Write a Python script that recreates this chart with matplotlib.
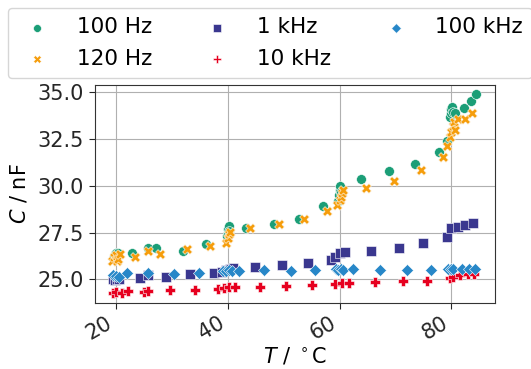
import matplotlib
matplotlib.use("Agg")
import matplotlib.pyplot as plt

# capacitance vs temperature, one series per measuring frequency
t_100hz = [19.7, 19.9, 20.1, 20.3, 20.5, 22.9, 25.8, 27.3, 32.0, 36.1,
           39.9, 40.0, 40.1, 40.2, 40.3, 43.3, 48.3, 52.7, 57.0,
           59.7, 59.9, 60.0, 60.1, 60.2, 63.9, 68.9, 73.4, 77.8, 79.2,
           79.8, 79.9, 80.0, 80.1, 80.3, 80.6, 82.2, 83.4, 84.3]
c_100hz = [26.2, 26.35, 26.4, 26.3, 26.4, 26.39, 26.66, 26.66, 26.53, 26.89,
           27.3, 27.5, 27.7, 27.85, 27.6, 27.73, 27.96, 28.2, 28.92,
           29.2, 29.5, 29.8, 30.0, 29.65, 30.35, 30.8, 31.15, 31.79, 32.4,
           33.7, 33.9, 34.1, 34.2, 33.95, 33.9, 34.18, 34.55, 34.9]

t_120hz = [19.4, 19.7, 20.0, 20.2, 20.5, 20.8, 23.4, 25.8, 28.0, 32.7,
           36.8, 39.8, 40.0, 40.2, 40.4, 44.1, 49.2, 53.6, 57.8,
           59.5, 60.0, 60.2, 60.4, 60.6, 64.7, 69.8, 74.5, 78.5, 79.2,
           79.8, 80.0, 80.2, 80.4, 80.6, 81.2, 82.5, 83.7]
c_120hz = [26.0, 26.2, 26.3, 25.95, 26.1, 26.35, 26.2, 26.53, 26.35, 26.62,
           26.78, 26.95, 27.2, 27.4, 27.55, 27.73, 27.94, 28.22, 28.65,
           28.97, 29.25, 29.4, 29.6, 29.77, 29.87, 30.26, 30.84, 31.56, 32.14,
           32.6, 32.9, 33.2, 33.4, 33.0, 33.57, 33.57, 33.88]

t_1khz = [19.5, 19.9, 20.3, 20.7, 24.3, 25.8, 29.0, 33.3, 37.6, 39.1,
          39.8, 40.4, 41.0, 44.9, 49.8, 54.3, 58.4, 59.2, 60.0, 61.0,
          65.6, 70.6, 75.0, 79.2, 80.0, 81.2, 82.4, 83.8]
c_1khz = [25.0, 24.98, 25.02, 25.0, 25.09, 25.2, 25.14, 25.27, 25.35, 25.4,
          25.5, 25.55, 25.6, 25.67, 25.76, 25.89, 26.03, 26.21, 26.39, 26.44,
          26.53, 26.69, 26.93, 27.28, 27.73, 27.81, 27.9, 28.03]

t_10khz = [19.6, 20.0, 21.2, 22.3, 25.1, 25.8, 29.7, 34.2, 38.3, 39.4,
           40.3, 41.4, 45.8, 50.5, 55.0, 59.2, 60.4, 61.7, 66.3, 71.3,
           75.7, 79.7, 80.2, 81.5, 82.9, 84.0]
c_10khz = [24.28, 24.3, 24.28, 24.39, 24.32, 24.39, 24.4, 24.43, 24.47, 24.52,
           24.57, 24.57, 24.6, 24.64, 24.7, 24.75, 24.79, 24.8, 24.87, 24.91,
           24.91, 25.05, 25.1, 25.23, 25.28, 25.28]

t_100khz = [19.6, 20.0, 20.6, 22.0, 25.8, 30.4, 34.9, 39.2, 39.8, 40.3,
            40.8, 42.1, 46.5, 51.3, 55.7, 59.3, 59.8, 60.2, 60.6, 62.4,
            67.2, 72.1, 76.4, 79.4, 79.9, 80.3, 81.8, 83.1, 84.2]
c_100khz = [25.23, 25.18, 25.14, 25.32, 25.32, 25.28, 25.35, 25.44, 25.46, 25.48,
            25.46, 25.46, 25.5, 25.46, 25.5, 25.53, 25.52, 25.53, 25.52, 25.53,
            25.5, 25.5, 25.52, 25.55, 25.56, 25.55, 25.55, 25.56, 25.56]

labels = ["100 Hz", "120 Hz", "1 kHz", "10 kHz", "100 kHz"]
series = [(t_100hz, c_100hz), (t_120hz, c_120hz), (t_1khz, c_1khz),
          (t_10khz, c_10khz), (t_100khz, c_100khz)]
colors = ["#1b9e77", "#f59d0c", "#3a378f", "#e6001f", "#2787c8"]
markers = ["o", "X", "s", "P", "D"]
sizes = [50, 50, 45, 55, 38]

fig = plt.figure(figsize=(5.31, 3.69), dpi=100)
ax = fig.add_axes([0.178, 0.18, 0.754, 0.59])

for (t, c), lab, col, mk, s in zip(series, labels, colors, markers, sizes):
    ax.scatter(t, c, s=s, marker=mk, color=col, edgecolor="white",
               linewidth=0.4, label=lab, zorder=3)

ax.set_xlim(16.25, 87.75)
ax.set_ylim(23.75, 35.4)
ax.set_xticks([20, 40, 60, 80])
ax.set_yticks([25.0, 27.5, 30.0, 32.5, 35.0])
ax.set_yticklabels(["25.0", "27.5", "30.0", "32.5", "35.0"])
ax.grid(True, color="#b0b0b0", linewidth=0.8)
ax.set_axisbelow(True)

ax.tick_params(labelsize=15, colors="#262626", length=4)
for lbl in ax.get_xticklabels():
    lbl.set_rotation(30)
    lbl.set_ha("right")
for sp in ax.spines.values():
    sp.set_color("#333333")

ax.set_xlabel(r"$T$ / $^\circ$C", fontsize=15, labelpad=1)
ax.set_ylabel(r"$C$ / nF", fontsize=15, labelpad=6)

fig.legend(loc="upper left", bbox_to_anchor=(0.015, 0.978),
           bbox_transform=fig.transFigure, ncol=3, fontsize=15.5,
           markerscale=0.8, handlelength=1.9, handletextpad=0.9,
           columnspacing=2.05, borderpad=0.42, labelspacing=0.55,
           borderaxespad=0, framealpha=0.8, edgecolor="#cccccc")

fig.savefig("out.png", dpi=100)
